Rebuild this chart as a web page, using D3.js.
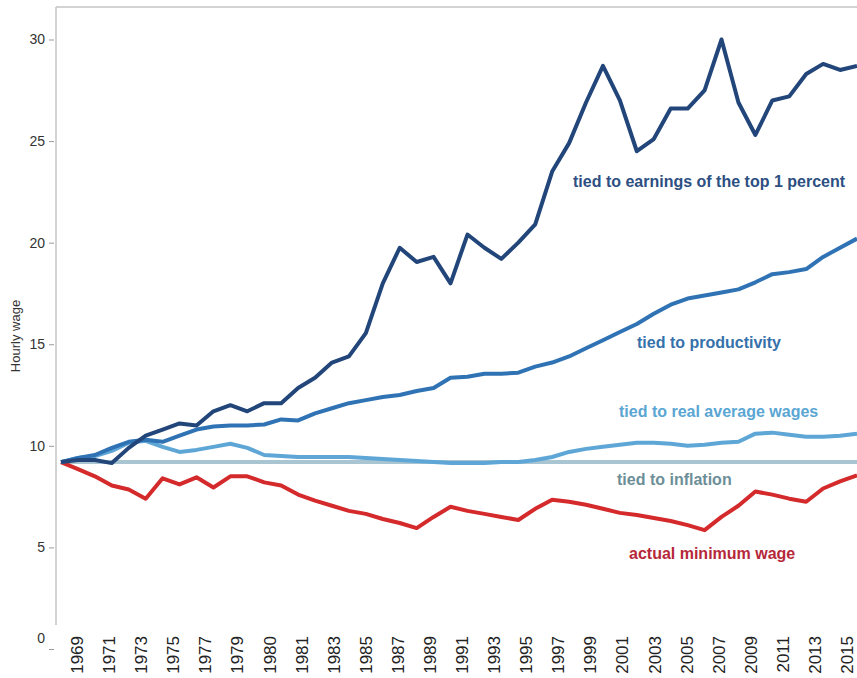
<!DOCTYPE html>
<html>
<head>
<meta charset="utf-8">
<script src="https://cdn.jsdelivr.net/npm/d3@7"></script>
<style>
  body { margin: 0; background: #fff; }
  svg { display: block; font-family: "Liberation Sans", Arial, sans-serif; }
</style>
</head>
<body>
<svg id="chart" width="857" height="678"></svg>
<script>
const years = [1968, 1969, 1970, 1971, 1972, 1973, 1974, 1975, 1976, 1977,
  1978, 1979, 1980, 1981, 1982, 1983, 1984, 1985, 1986, 1987,
  1988, 1989, 1990, 1991, 1992, 1993, 1994, 1995, 1996, 1997,
  1998, 1999, 2000, 2001, 2002, 2003, 2004, 2005, 2006, 2007,
  2008, 2009, 2010, 2011, 2012, 2013, 2014, 2015];

const top1 = [9.2, 9.3, 9.3, 9.15, 9.9, 10.5, 10.8, 11.1, 11.0, 11.7,
  12.0, 11.7, 12.1, 12.1, 12.85, 13.35, 14.1, 14.4, 15.55, 18.0,
  19.75, 19.05, 19.3, 18.0, 20.4, 19.75, 19.2, 20.0, 20.9, 23.5,
  24.9, 26.9, 28.7, 27.0, 24.5, 25.1, 26.6, 26.6, 27.5, 30.0,
  26.9, 25.3, 27.0, 27.2, 28.3, 28.8, 28.5, 28.7];

const productivity = [9.2, 9.4, 9.55, 9.9, 10.2, 10.3, 10.2, 10.5, 10.8, 10.95,
  11.0, 11.0, 11.05, 11.3, 11.25, 11.6, 11.85, 12.1, 12.25, 12.4,
  12.5, 12.7, 12.85, 13.35, 13.4, 13.55, 13.55, 13.6, 13.9, 14.1,
  14.4, 14.8, 15.2, 15.6, 16.0, 16.5, 16.95, 17.25, 17.4, 17.55,
  17.7, 18.05, 18.45, 18.55, 18.7, 19.3, 19.75, 20.2];

const realWages = [9.2, 9.4, 9.5, 9.75, 10.15, 10.25, 9.95, 9.7, 9.8, 9.95,
  10.1, 9.9, 9.55, 9.5, 9.45, 9.45, 9.45, 9.45, 9.4, 9.35,
  9.3, 9.25, 9.2, 9.15, 9.15, 9.15, 9.2, 9.2, 9.3, 9.45,
  9.7, 9.85, 9.95, 10.05, 10.15, 10.15, 10.1, 10.0, 10.05, 10.15,
  10.2, 10.6, 10.65, 10.55, 10.45, 10.45, 10.5, 10.6];

const inflation = [9.2, 9.2, 9.2, 9.2, 9.2, 9.2, 9.2, 9.2, 9.2, 9.2,
  9.2, 9.2, 9.2, 9.2, 9.2, 9.2, 9.2, 9.2, 9.2, 9.2,
  9.2, 9.2, 9.2, 9.2, 9.2, 9.2, 9.2, 9.2, 9.2, 9.2,
  9.2, 9.2, 9.2, 9.2, 9.2, 9.2, 9.2, 9.2, 9.2, 9.2,
  9.2, 9.2, 9.2, 9.2, 9.2, 9.2, 9.2, 9.2];

const minWage = [9.2, 8.85, 8.5, 8.05, 7.85, 7.4, 8.4, 8.1, 8.45, 7.95,
  8.5, 8.5, 8.2, 8.05, 7.6, 7.3, 7.05, 6.8, 6.65, 6.4,
  6.2, 5.95, 6.5, 7.0, 6.8, 6.65, 6.5, 6.35, 6.9, 7.35,
  7.25, 7.1, 6.9, 6.7, 6.6, 6.45, 6.3, 6.1, 5.85, 6.5,
  7.05, 7.75, 7.6, 7.4, 7.25, 7.9, 8.25, 8.55];

const tickLabels = ["1969", "1971", "1973", "1975", "1977", "1979", "1980", "1981",
  "1983", "1985", "1987", "1989", "1991", "1993", "1995", "1997", "1999",
  "2001", "2003", "2005", "2007", "2009", "2011", "2013", "2015"];

const yTicks = [0, 5, 10, 15, 20, 25, 30];

const svg = d3.select("#chart");

const x = d3.scaleLinear().domain([1968, 2015]).range([61, 857]);
const xLab = d3.scalePoint().domain(tickLabels).range([77, 847]);
const y = d3.scaleLinear().domain([0, 31.6]).range([649, 7]);

// frame: left and top lines
svg.append("line")
  .attr("x1", 56).attr("x2", 56).attr("y1", 7).attr("y2", 625)
  .attr("stroke", "#c4c4c4").attr("stroke-width", 1.5);
svg.append("line")
  .attr("x1", 56).attr("x2", 857).attr("y1", 7).attr("y2", 7)
  .attr("stroke", "#c4c4c4").attr("stroke-width", 1.5);

// y axis
const yAxis = svg.append("g")
  .attr("transform", "translate(54,0)")
  .call(d3.axisLeft(y).tickValues(yTicks).tickSize(5).tickPadding(4));
yAxis.select(".domain").remove();
yAxis.selectAll(".tick line").attr("stroke", "#9a9a9a");
yAxis.selectAll(".tick text")
  .attr("fill", "#333")
  .style("font-size", "14px")
  .style("font-family", "Liberation Sans, Arial, sans-serif");
yAxis.selectAll(".tick").filter(d => d === 0).select("text").attr("dy", "-0.45em");

svg.append("text")
  .attr("transform", "translate(20,336) rotate(-90)")
  .attr("text-anchor", "middle")
  .attr("fill", "#333")
  .style("font-size", "13px")
  .text("Hourly wage");

// x labels
svg.append("g").selectAll("text")
  .data(tickLabels)
  .join("text")
  .attr("transform", d => `translate(${xLab(d) + 6},636) rotate(-90)`)
  .attr("text-anchor", "end")
  .attr("fill", "#222")
  .style("font-size", "17px")
  .text(d => d);

// lines
const series = [
  { name: "tied to inflation", values: inflation, color: "#a9c5d2" },
  { name: "actual minimum wage", values: minWage, color: "#d42a2c" },
  { name: "tied to real average wages", values: realWages, color: "#5ea6d6" },
  { name: "tied to productivity", values: productivity, color: "#2f73b4" },
  { name: "tied to earnings of the top 1 percent", values: top1, color: "#22467a" }
];

const line = d3.line()
  .x((d, i) => x(years[i]))
  .y(d => y(d));

svg.append("g").selectAll("path")
  .data(series)
  .join("path")
  .attr("d", d => line(d.values))
  .attr("fill", "none")
  .attr("stroke", d => d.color)
  .attr("stroke-width", 4)
  .attr("stroke-linejoin", "round");

// labels on the lines
const labels = [
  { text: "tied to earnings of the top 1 percent", x: 573, y: 181, color: "#2d4f82" },
  { text: "tied to productivity", x: 637, y: 342, color: "#3671ab" },
  { text: "tied to real average wages", x: 619, y: 411, color: "#5aa6d3" },
  { text: "tied to inflation", x: 617, y: 479, color: "#6c8e97" },
  { text: "actual minimum wage", x: 629, y: 553, color: "#b5283a" }
];

svg.append("g").selectAll("text")
  .data(labels)
  .join("text")
  .attr("x", d => d.x)
  .attr("y", d => d.y)
  .attr("dy", "0.35em")
  .attr("fill", d => d.color)
  .style("font-size", "16px")
  .style("font-weight", "bold")
  .text(d => d.text);
</script>
</body>
</html>
